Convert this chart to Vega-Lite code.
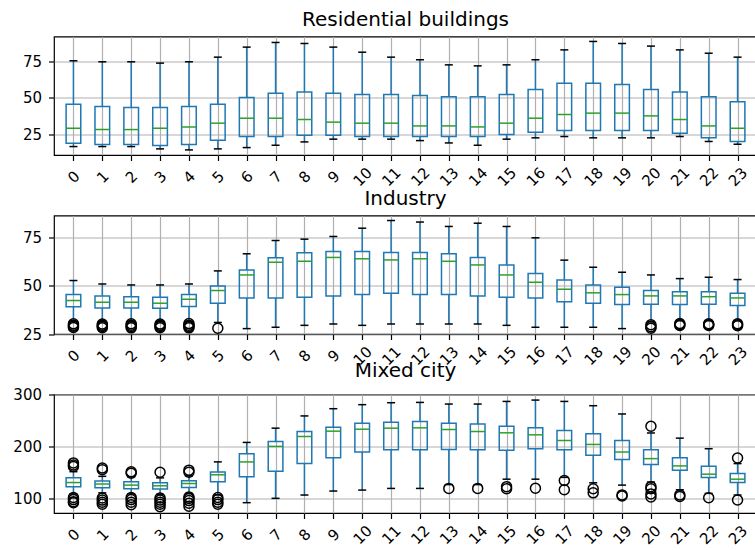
{
  "$schema": "https://vega.github.io/schema/vega-lite/v6.json",
  "background": "white",
  "padding": {"left": 12, "top": 8.5, "right": 0, "bottom": 0},
  "config": {
    "font": "DejaVu Sans",
    "view": {"stroke": "black", "strokeWidth": 1.2},
    "axis": {
      "domain": false, "grid": true, "gridColor": "#b0b0b0", "gridWidth": 1.2,
      "tickColor": "black", "tickWidth": 1.2, "tickSize": 5.5,
      "labelFont": "DejaVu Sans", "labelFontSize": 15, "labelColor": "black"
    },
    "axisY": {"labelPadding": 7},
    "title": {"font": "DejaVu Sans", "fontSize": 20, "fontWeight": "normal", "color": "black", "frame": "group", "anchor": "middle", "baseline": "alphabetic", "offset": 7}
  },
  "datasets": {
    "boxes": [
      {"panel": "Residential buildings", "hour": 0, "lo": 16.5, "q1": 18.8, "med": 29.1, "q3": 45.6, "hi": 75.5},
      {"panel": "Residential buildings", "hour": 1, "lo": 16.5, "q1": 17.9, "med": 28.2, "q3": 44.0, "hi": 74.8},
      {"panel": "Residential buildings", "hour": 2, "lo": 16.5, "q1": 17.9, "med": 28.2, "q3": 43.3, "hi": 74.8},
      {"panel": "Residential buildings", "hour": 3, "lo": 14.9, "q1": 17.2, "med": 29.1, "q3": 43.3, "hi": 73.9},
      {"panel": "Residential buildings", "hour": 4, "lo": 14.2, "q1": 17.9, "med": 30.0, "q3": 44.0, "hi": 74.8},
      {"panel": "Residential buildings", "hour": 5, "lo": 14.9, "q1": 20.9, "med": 32.6, "q3": 45.6, "hi": 78.0},
      {"panel": "Residential buildings", "hour": 6, "lo": 15.8, "q1": 23.4, "med": 36.0, "q3": 50.2, "hi": 84.9},
      {"panel": "Residential buildings", "hour": 7, "lo": 17.4, "q1": 23.4, "med": 36.0, "q3": 53.2, "hi": 88.1},
      {"panel": "Residential buildings", "hour": 8, "lo": 19.7, "q1": 24.3, "med": 35.1, "q3": 54.1, "hi": 87.4},
      {"panel": "Residential buildings", "hour": 9, "lo": 21.6, "q1": 24.3, "med": 33.3, "q3": 53.2, "hi": 84.9},
      {"panel": "Residential buildings", "hour": 10, "lo": 21.6, "q1": 23.4, "med": 32.6, "q3": 52.3, "hi": 81.4},
      {"panel": "Residential buildings", "hour": 11, "lo": 21.6, "q1": 23.4, "med": 32.6, "q3": 52.3, "hi": 78.0},
      {"panel": "Residential buildings", "hour": 12, "lo": 20.6, "q1": 23.4, "med": 30.7, "q3": 51.6, "hi": 76.2},
      {"panel": "Residential buildings", "hour": 13, "lo": 19.0, "q1": 23.4, "med": 30.7, "q3": 50.7, "hi": 72.7},
      {"panel": "Residential buildings", "hour": 14, "lo": 17.4, "q1": 23.4, "med": 30.0, "q3": 50.7, "hi": 72.0},
      {"panel": "Residential buildings", "hour": 15, "lo": 21.6, "q1": 24.8, "med": 32.6, "q3": 52.3, "hi": 72.7},
      {"panel": "Residential buildings", "hour": 16, "lo": 22.5, "q1": 26.4, "med": 36.0, "q3": 55.7, "hi": 76.2},
      {"panel": "Residential buildings", "hour": 17, "lo": 23.4, "q1": 27.5, "med": 38.5, "q3": 60.1, "hi": 83.0},
      {"panel": "Residential buildings", "hour": 18, "lo": 22.5, "q1": 27.5, "med": 39.5, "q3": 60.1, "hi": 88.8},
      {"panel": "Residential buildings", "hour": 19, "lo": 22.5, "q1": 27.5, "med": 39.5, "q3": 59.2, "hi": 87.4},
      {"panel": "Residential buildings", "hour": 20, "lo": 22.5, "q1": 27.5, "med": 37.6, "q3": 55.7, "hi": 85.6},
      {"panel": "Residential buildings", "hour": 21, "lo": 23.4, "q1": 25.7, "med": 35.1, "q3": 54.1, "hi": 83.0},
      {"panel": "Residential buildings", "hour": 22, "lo": 20.0, "q1": 22.5, "med": 30.7, "q3": 50.7, "hi": 80.7},
      {"panel": "Residential buildings", "hour": 23, "lo": 18.1, "q1": 20.0, "med": 29.1, "q3": 47.3, "hi": 78.0},

      {"panel": "Industry", "hour": 0, "lo": 31.5, "q1": 39.2, "med": 42.4, "q3": 45.5, "hi": 52.8},
      {"panel": "Industry", "hour": 1, "lo": 31.5, "q1": 38.5, "med": 41.5, "q3": 44.8, "hi": 51.0},
      {"panel": "Industry", "hour": 2, "lo": 31.5, "q1": 38.5, "med": 41.5, "q3": 44.4, "hi": 50.5},
      {"panel": "Industry", "hour": 3, "lo": 31.5, "q1": 38.4, "med": 41.0, "q3": 44.1, "hi": 50.5},
      {"panel": "Industry", "hour": 4, "lo": 31.5, "q1": 39.3, "med": 43.1, "q3": 45.5, "hi": 51.0},
      {"panel": "Industry", "hour": 5, "lo": 31.0, "q1": 41.0, "med": 47.6, "q3": 50.0, "hi": 57.8},
      {"panel": "Industry", "hour": 6, "lo": 27.8, "q1": 43.75, "med": 55.7, "q3": 58.3, "hi": 66.7},
      {"panel": "Industry", "hour": 7, "lo": 28.5, "q1": 43.75, "med": 62.3, "q3": 64.6, "hi": 73.6},
      {"panel": "Industry", "hour": 8, "lo": 29.5, "q1": 44.1, "med": 62.8, "q3": 67.2, "hi": 74.3},
      {"panel": "Industry", "hour": 9, "lo": 30.2, "q1": 44.8, "med": 64.8, "q3": 67.9, "hi": 75.7},
      {"panel": "Industry", "hour": 10, "lo": 29.5, "q1": 45.5, "med": 64.1, "q3": 67.9, "hi": 80.0},
      {"panel": "Industry", "hour": 11, "lo": 30.2, "q1": 46.2, "med": 63.5, "q3": 67.4, "hi": 84.0},
      {"panel": "Industry", "hour": 12, "lo": 30.2, "q1": 45.5, "med": 64.1, "q3": 67.4, "hi": 83.2},
      {"panel": "Industry", "hour": 13, "lo": 30.2, "q1": 45.5, "med": 62.8, "q3": 66.7, "hi": 80.9},
      {"panel": "Industry", "hour": 14, "lo": 30.2, "q1": 44.8, "med": 60.9, "q3": 64.8, "hi": 82.6},
      {"panel": "Industry", "hour": 15, "lo": 29.5, "q1": 44.1, "med": 55.7, "q3": 60.9, "hi": 80.9},
      {"panel": "Industry", "hour": 16, "lo": 28.5, "q1": 43.75, "med": 51.9, "q3": 56.4, "hi": 75.0},
      {"panel": "Industry", "hour": 17, "lo": 28.5, "q1": 41.7, "med": 48.3, "q3": 53.1, "hi": 63.4},
      {"panel": "Industry", "hour": 18, "lo": 28.5, "q1": 41.0, "med": 46.4, "q3": 50.5, "hi": 59.7},
      {"panel": "Industry", "hour": 19, "lo": 27.8, "q1": 40.3, "med": 45.5, "q3": 49.3, "hi": 57.1},
      {"panel": "Industry", "hour": 20, "lo": 31.5, "q1": 40.5, "med": 44.8, "q3": 47.6, "hi": 55.7},
      {"panel": "Industry", "hour": 21, "lo": 32.0, "q1": 40.3, "med": 44.8, "q3": 46.9, "hi": 53.8},
      {"panel": "Industry", "hour": 22, "lo": 32.0, "q1": 40.5, "med": 44.4, "q3": 46.9, "hi": 54.5},
      {"panel": "Industry", "hour": 23, "lo": 32.0, "q1": 39.8, "med": 43.75, "q3": 46.2, "hi": 53.3},

      {"panel": "Mixed city", "hour": 0, "lo": 108, "q1": 122, "med": 130, "q3": 139.5, "hi": 151},
      {"panel": "Mixed city", "hour": 1, "lo": 110, "q1": 120, "med": 127, "q3": 133, "hi": 142},
      {"panel": "Mixed city", "hour": 2, "lo": 108, "q1": 118, "med": 125, "q3": 131.5, "hi": 141},
      {"panel": "Mixed city", "hour": 3, "lo": 107, "q1": 117.3, "med": 123.7, "q3": 129.5, "hi": 139},
      {"panel": "Mixed city", "hour": 4, "lo": 109, "q1": 120.5, "med": 128, "q3": 133.5, "hi": 143},
      {"panel": "Mixed city", "hour": 5, "lo": 106, "q1": 131.5, "med": 145, "q3": 150.5, "hi": 170},
      {"panel": "Mixed city", "hour": 6, "lo": 91, "q1": 141, "med": 169.9, "q3": 185.9, "hi": 207.7},
      {"panel": "Mixed city", "hour": 7, "lo": 99.4, "q1": 151.9, "med": 200, "q3": 209.6, "hi": 235.3},
      {"panel": "Mixed city", "hour": 8, "lo": 105.8, "q1": 166.7, "med": 219.2, "q3": 228.8, "hi": 259},
      {"panel": "Mixed city", "hour": 9, "lo": 113.5, "q1": 178.2, "med": 229.5, "q3": 237.2, "hi": 273},
      {"panel": "Mixed city", "hour": 10, "lo": 115.4, "q1": 189.1, "med": 233.3, "q3": 244.9, "hi": 280.8},
      {"panel": "Mixed city", "hour": 11, "lo": 118.6, "q1": 193.6, "med": 235.3, "q3": 246.8, "hi": 284.6},
      {"panel": "Mixed city", "hour": 12, "lo": 118.6, "q1": 193.6, "med": 235.9, "q3": 248, "hi": 285.2},
      {"panel": "Mixed city", "hour": 13, "lo": 126, "q1": 194.2, "med": 232.7, "q3": 244.9, "hi": 282},
      {"panel": "Mixed city", "hour": 14, "lo": 126, "q1": 193.6, "med": 228.8, "q3": 243.6, "hi": 282},
      {"panel": "Mixed city", "hour": 15, "lo": 136.5, "q1": 192.3, "med": 226.3, "q3": 239.1, "hi": 287.1},
      {"panel": "Mixed city", "hour": 16, "lo": 136.5, "q1": 195.5, "med": 222.4, "q3": 235.9, "hi": 289.7},
      {"panel": "Mixed city", "hour": 17, "lo": 140, "q1": 193.6, "med": 211.5, "q3": 230.8, "hi": 287.1},
      {"panel": "Mixed city", "hour": 18, "lo": 129.5, "q1": 182.7, "med": 203.8, "q3": 224.4, "hi": 278.8},
      {"panel": "Mixed city", "hour": 19, "lo": 125, "q1": 174.4, "med": 189.1, "q3": 211.5, "hi": 262.8},
      {"panel": "Mixed city", "hour": 20, "lo": 131, "q1": 164.7, "med": 176.3, "q3": 193.6, "hi": 226},
      {"panel": "Mixed city", "hour": 21, "lo": 116, "q1": 153.8, "med": 162.2, "q3": 178.2, "hi": 216},
      {"panel": "Mixed city", "hour": 22, "lo": 109, "q1": 139.7, "med": 146.2, "q3": 161.5, "hi": 195.5},
      {"panel": "Mixed city", "hour": 23, "lo": 105.8, "q1": 130.1, "med": 136.5, "q3": 147.4, "hi": 166.7}
    ],
    "fliers": [
      {"panel": "Industry", "hour": 0, "value": 30.3}, {"panel": "Industry", "hour": 0, "value": 29.6}, {"panel": "Industry", "hour": 0, "value": 29.0}, {"panel": "Industry", "hour": 0, "value": 28.4},
      {"panel": "Industry", "hour": 1, "value": 30.2}, {"panel": "Industry", "hour": 1, "value": 29.5}, {"panel": "Industry", "hour": 1, "value": 28.9}, {"panel": "Industry", "hour": 1, "value": 28.3},
      {"panel": "Industry", "hour": 2, "value": 30.3}, {"panel": "Industry", "hour": 2, "value": 29.6}, {"panel": "Industry", "hour": 2, "value": 28.9}, {"panel": "Industry", "hour": 2, "value": 28.2},
      {"panel": "Industry", "hour": 3, "value": 30.2}, {"panel": "Industry", "hour": 3, "value": 29.5}, {"panel": "Industry", "hour": 3, "value": 28.9}, {"panel": "Industry", "hour": 3, "value": 28.3},
      {"panel": "Industry", "hour": 4, "value": 30.4}, {"panel": "Industry", "hour": 4, "value": 29.6}, {"panel": "Industry", "hour": 4, "value": 28.9}, {"panel": "Industry", "hour": 4, "value": 28.2},
      {"panel": "Industry", "hour": 5, "value": 28.0},
      {"panel": "Industry", "hour": 20, "value": 29.8}, {"panel": "Industry", "hour": 20, "value": 28.8}, {"panel": "Industry", "hour": 20, "value": 28.0},
      {"panel": "Industry", "hour": 21, "value": 30.4}, {"panel": "Industry", "hour": 21, "value": 29.9}, {"panel": "Industry", "hour": 21, "value": 29.4},
      {"panel": "Industry", "hour": 22, "value": 30.3}, {"panel": "Industry", "hour": 22, "value": 29.8}, {"panel": "Industry", "hour": 22, "value": 29.4},
      {"panel": "Industry", "hour": 23, "value": 30.3}, {"panel": "Industry", "hour": 23, "value": 29.8}, {"panel": "Industry", "hour": 23, "value": 29.3},

      {"panel": "Mixed city", "hour": 0, "value": 168}, {"panel": "Mixed city", "hour": 0, "value": 164}, {"panel": "Mixed city", "hour": 0, "value": 161},
      {"panel": "Mixed city", "hour": 0, "value": 101}, {"panel": "Mixed city", "hour": 0, "value": 97}, {"panel": "Mixed city", "hour": 0, "value": 93}, {"panel": "Mixed city", "hour": 0, "value": 91},
      {"panel": "Mixed city", "hour": 1, "value": 158}, {"panel": "Mixed city", "hour": 1, "value": 155},
      {"panel": "Mixed city", "hour": 1, "value": 100}, {"panel": "Mixed city", "hour": 1, "value": 96}, {"panel": "Mixed city", "hour": 1, "value": 92}, {"panel": "Mixed city", "hour": 1, "value": 88},
      {"panel": "Mixed city", "hour": 2, "value": 151}, {"panel": "Mixed city", "hour": 2, "value": 148},
      {"panel": "Mixed city", "hour": 2, "value": 101}, {"panel": "Mixed city", "hour": 2, "value": 97}, {"panel": "Mixed city", "hour": 2, "value": 92}, {"panel": "Mixed city", "hour": 2, "value": 87},
      {"panel": "Mixed city", "hour": 3, "value": 150},
      {"panel": "Mixed city", "hour": 3, "value": 100}, {"panel": "Mixed city", "hour": 3, "value": 96}, {"panel": "Mixed city", "hour": 3, "value": 92}, {"panel": "Mixed city", "hour": 3, "value": 88}, {"panel": "Mixed city", "hour": 3, "value": 83},
      {"panel": "Mixed city", "hour": 4, "value": 154}, {"panel": "Mixed city", "hour": 4, "value": 150},
      {"panel": "Mixed city", "hour": 4, "value": 102}, {"panel": "Mixed city", "hour": 4, "value": 99}, {"panel": "Mixed city", "hour": 4, "value": 95}, {"panel": "Mixed city", "hour": 4, "value": 90}, {"panel": "Mixed city", "hour": 4, "value": 84},
      {"panel": "Mixed city", "hour": 5, "value": 101}, {"panel": "Mixed city", "hour": 5, "value": 97}, {"panel": "Mixed city", "hour": 5, "value": 92}, {"panel": "Mixed city", "hour": 5, "value": 88},
      {"panel": "Mixed city", "hour": 13, "value": 118.6},
      {"panel": "Mixed city", "hour": 14, "value": 118.6},
      {"panel": "Mixed city", "hour": 15, "value": 122}, {"panel": "Mixed city", "hour": 15, "value": 118},
      {"panel": "Mixed city", "hour": 16, "value": 119},
      {"panel": "Mixed city", "hour": 17, "value": 134}, {"panel": "Mixed city", "hour": 17, "value": 116},
      {"panel": "Mixed city", "hour": 18, "value": 118}, {"panel": "Mixed city", "hour": 18, "value": 110},
      {"panel": "Mixed city", "hour": 19, "value": 106}, {"panel": "Mixed city", "hour": 19, "value": 104},
      {"panel": "Mixed city", "hour": 20, "value": 239}, {"panel": "Mixed city", "hour": 20, "value": 122}, {"panel": "Mixed city", "hour": 20, "value": 118}, {"panel": "Mixed city", "hour": 20, "value": 108}, {"panel": "Mixed city", "hour": 20, "value": 102},
      {"panel": "Mixed city", "hour": 21, "value": 106}, {"panel": "Mixed city", "hour": 21, "value": 103},
      {"panel": "Mixed city", "hour": 22, "value": 100.6},
      {"panel": "Mixed city", "hour": 23, "value": 177.5}, {"panel": "Mixed city", "hour": 23, "value": 96.2}
    ]
  },
  "bounds": "flush",
  "spacing": 60,
  "vconcat": [
    {
      "title": "Residential buildings",
      "width": 703, "height": 118.5,
      "data": {"name": "boxes"},
      "transform": [{"filter": "datum.panel === 'Residential buildings'"}],
      "encoding": {
        "x": {"field": "hour", "type": "quantitative", "scale": {"domain": [-0.5, 23.5], "nice": false, "zero": false},
              "axis": {"title": null, "values": [0,1,2,3,4,5,6,7,8,9,10,11,12,13,14,15,16,17,18,19,20,21,22,23], "labelAngle": -45, "labelAlign": "center", "labelBaseline": "middle", "labelPadding": 16, "labelFlush": false, "labelOverlap": false}}
      },
      "layer": [
        {"mark": {"type": "rule", "color": "#1f77b4", "strokeWidth": 1.5},
         "encoding": {"y": {"field": "lo", "type": "quantitative", "scale": {"domain": [10.7, 92.2], "nice": false, "zero": false}, "axis": {"title": null, "values": [25, 50, 75]}}, "y2": {"field": "q1"}}},
        {"mark": {"type": "rule", "color": "#1f77b4", "strokeWidth": 1.5},
         "encoding": {"y": {"field": "q3", "type": "quantitative", "scale": {"domain": [10.7, 92.2], "nice": false, "zero": false}}, "y2": {"field": "hi"}}},
        {"mark": {"type": "bar", "orient": "vertical", "size": 14.65, "fillOpacity": 0, "stroke": "#1f77b4", "strokeWidth": 1.5},
         "encoding": {"y": {"field": "q1", "type": "quantitative", "scale": {"domain": [10.7, 92.2], "nice": false, "zero": false}}, "y2": {"field": "q3"}}},
        {"mark": {"type": "tick", "orient": "horizontal", "size": 8, "thickness": 1.5, "color": "black", "opacity": 1},
         "encoding": {"y": {"field": "lo", "type": "quantitative", "scale": {"domain": [10.7, 92.2], "nice": false, "zero": false}}}},
        {"mark": {"type": "tick", "orient": "horizontal", "size": 8, "thickness": 1.5, "color": "black", "opacity": 1},
         "encoding": {"y": {"field": "hi", "type": "quantitative", "scale": {"domain": [10.7, 92.2], "nice": false, "zero": false}}}},
        {"mark": {"type": "tick", "orient": "horizontal", "size": 14.65, "thickness": 1.5, "color": "#2ca02c", "opacity": 1},
         "encoding": {"y": {"field": "med", "type": "quantitative", "scale": {"domain": [10.7, 92.2], "nice": false, "zero": false}}}}
      ]
    },
    {
      "title": "Industry",
      "width": 703, "height": 118.5,
      "data": {"name": "boxes"},
      "transform": [{"filter": "datum.panel === 'Industry'"}],
      "encoding": {
        "x": {"field": "hour", "type": "quantitative", "scale": {"domain": [-0.5, 23.5], "nice": false, "zero": false},
              "axis": {"title": null, "values": [0,1,2,3,4,5,6,7,8,9,10,11,12,13,14,15,16,17,18,19,20,21,22,23], "labelAngle": -45, "labelAlign": "center", "labelBaseline": "middle", "labelPadding": 16, "labelFlush": false, "labelOverlap": false}}
      },
      "layer": [
        {"mark": {"type": "rule", "color": "#1f77b4", "strokeWidth": 1.5},
         "encoding": {"y": {"field": "lo", "type": "quantitative", "scale": {"domain": [25, 86.6], "nice": false, "zero": false}, "axis": {"title": null, "values": [25, 50, 75]}}, "y2": {"field": "q1"}}},
        {"mark": {"type": "rule", "color": "#1f77b4", "strokeWidth": 1.5},
         "encoding": {"y": {"field": "q3", "type": "quantitative", "scale": {"domain": [25, 86.6], "nice": false, "zero": false}}, "y2": {"field": "hi"}}},
        {"mark": {"type": "bar", "orient": "vertical", "size": 14.65, "fillOpacity": 0, "stroke": "#1f77b4", "strokeWidth": 1.5},
         "encoding": {"y": {"field": "q1", "type": "quantitative", "scale": {"domain": [25, 86.6], "nice": false, "zero": false}}, "y2": {"field": "q3"}}},
        {"mark": {"type": "tick", "orient": "horizontal", "size": 8, "thickness": 1.5, "color": "black", "opacity": 1},
         "encoding": {"y": {"field": "lo", "type": "quantitative", "scale": {"domain": [25, 86.6], "nice": false, "zero": false}}}},
        {"mark": {"type": "tick", "orient": "horizontal", "size": 8, "thickness": 1.5, "color": "black", "opacity": 1},
         "encoding": {"y": {"field": "hi", "type": "quantitative", "scale": {"domain": [25, 86.6], "nice": false, "zero": false}}}},
        {"mark": {"type": "tick", "orient": "horizontal", "size": 14.65, "thickness": 1.5, "color": "#2ca02c", "opacity": 1},
         "encoding": {"y": {"field": "med", "type": "quantitative", "scale": {"domain": [25, 86.6], "nice": false, "zero": false}}}},
        {"data": {"name": "fliers"},
         "transform": [{"filter": "datum.panel === 'Industry'"}],
         "mark": {"type": "point", "shape": "circle", "filled": false, "size": 100, "color": "black", "strokeWidth": 1.5, "opacity": 1},
         "encoding": {"y": {"field": "value", "type": "quantitative", "scale": {"domain": [25, 86.6], "nice": false, "zero": false}}}}
      ]
    },
    {
      "title": "Mixed city",
      "width": 703, "height": 118.5,
      "data": {"name": "boxes"},
      "transform": [{"filter": "datum.panel === 'Mixed city'"}],
      "encoding": {
        "x": {"field": "hour", "type": "quantitative", "scale": {"domain": [-0.5, 23.5], "nice": false, "zero": false},
              "axis": {"title": null, "values": [0,1,2,3,4,5,6,7,8,9,10,11,12,13,14,15,16,17,18,19,20,21,22,23], "labelAngle": -45, "labelAlign": "center", "labelBaseline": "middle", "labelPadding": 16, "labelFlush": false, "labelOverlap": false}}
      },
      "layer": [
        {"mark": {"type": "rule", "color": "#1f77b4", "strokeWidth": 1.5},
         "encoding": {"y": {"field": "lo", "type": "quantitative", "scale": {"domain": [71, 300.5], "nice": false, "zero": false}, "axis": {"title": null, "values": [100, 200, 300]}}, "y2": {"field": "q1"}}},
        {"mark": {"type": "rule", "color": "#1f77b4", "strokeWidth": 1.5},
         "encoding": {"y": {"field": "q3", "type": "quantitative", "scale": {"domain": [71, 300.5], "nice": false, "zero": false}}, "y2": {"field": "hi"}}},
        {"mark": {"type": "bar", "orient": "vertical", "size": 14.65, "fillOpacity": 0, "stroke": "#1f77b4", "strokeWidth": 1.5},
         "encoding": {"y": {"field": "q1", "type": "quantitative", "scale": {"domain": [71, 300.5], "nice": false, "zero": false}}, "y2": {"field": "q3"}}},
        {"mark": {"type": "tick", "orient": "horizontal", "size": 8, "thickness": 1.5, "color": "black", "opacity": 1},
         "encoding": {"y": {"field": "lo", "type": "quantitative", "scale": {"domain": [71, 300.5], "nice": false, "zero": false}}}},
        {"mark": {"type": "tick", "orient": "horizontal", "size": 8, "thickness": 1.5, "color": "black", "opacity": 1},
         "encoding": {"y": {"field": "hi", "type": "quantitative", "scale": {"domain": [71, 300.5], "nice": false, "zero": false}}}},
        {"mark": {"type": "tick", "orient": "horizontal", "size": 14.65, "thickness": 1.5, "color": "#2ca02c", "opacity": 1},
         "encoding": {"y": {"field": "med", "type": "quantitative", "scale": {"domain": [71, 300.5], "nice": false, "zero": false}}}},
        {"data": {"name": "fliers"},
         "transform": [{"filter": "datum.panel === 'Mixed city'"}],
         "mark": {"type": "point", "shape": "circle", "filled": false, "size": 100, "color": "black", "strokeWidth": 1.5, "opacity": 1},
         "encoding": {"y": {"field": "value", "type": "quantitative", "scale": {"domain": [71, 300.5], "nice": false, "zero": false}}}}
      ]
    }
  ]
}
